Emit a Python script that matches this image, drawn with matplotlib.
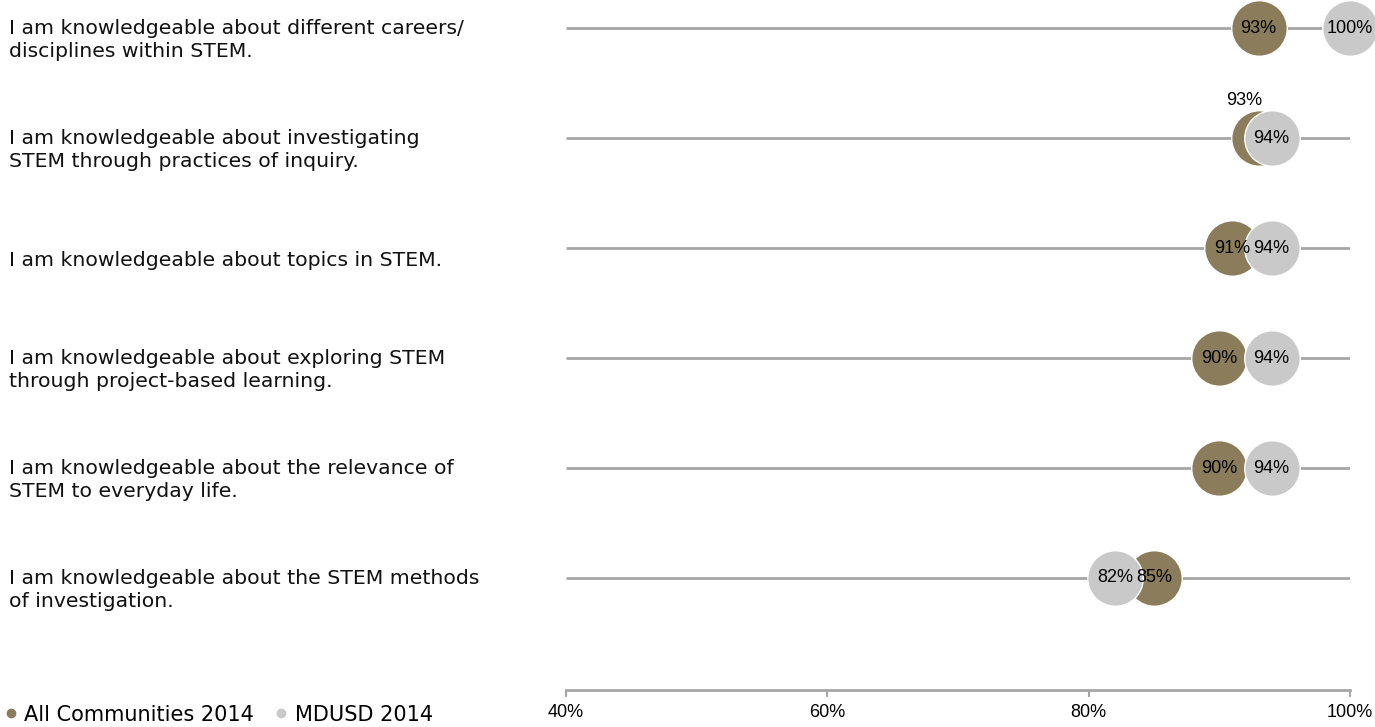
import matplotlib.pyplot as plt
import matplotlib.transforms as mtransforms
from matplotlib.lines import Line2D

# Data
statements = [
    'I am knowledgeable about different careers/\ndisciplines within STEM.',
    'I am knowledgeable about investigating\nSTEM through practices of inquiry.',
    'I am knowledgeable about topics in STEM.',
    'I am knowledgeable about exploring STEM\nthrough project-based learning.',
    'I am knowledgeable about the relevance of\nSTEM to everyday life.',
    'I am knowledgeable about the STEM methods\nof investigation.',
]
all_communities = [93, 93, 91, 90, 90, 85]
mdusd = [100, 94, 94, 94, 94, 82]
series_names = ['All Communities 2014', 'MDUSD 2014']
x_ticks = [40, 60, 80, 100]

OLIVE = '#8B7D5B'
GREY = '#C9C9C9'
LINE = '#A6A6A6'
NARROW = ['Liberation Sans Narrow', 'Liberation Sans', 'DejaVu Sans']

fig = plt.figure(figsize=(13.75, 7.27), dpi=100)
# axes spans 40% at x=566px to 100% at x=1350px, bottom axis at y=690px
ax = fig.add_axes([566 / 1375, 1 - 690 / 727, 784 / 1375, 690 / 727])
n = len(statements)
ypos = [n - 1 - i for i in range(n)]
ax.set_xlim(40, 100)
ax.set_ylim(-112 / 110, n - 1 + 28 / 110)

for y in ypos:
    ax.plot([40, 100], [y, y], color=LINE, lw=2, zorder=1, solid_capstyle='butt')

ax.scatter(all_communities, ypos, s=1600, color=OLIVE, edgecolor='white',
           linewidth=1, zorder=3, clip_on=False)
ax.scatter(mdusd, ypos, s=1600, color=GREY, edgecolor='white',
           linewidth=1, zorder=4, clip_on=False)

for y, a, m in zip(ypos, all_communities, mdusd):
    ax.text(m, y, f'{m}%', ha='center', va='center', fontsize=13,
            family=NARROW, zorder=6, clip_on=False)
    if abs(a - m) < 2:
        ax.annotate(f'{a}%', (a, y), xytext=(-10, 27), textcoords='offset points',
                    ha='center', va='center', fontsize=13, family=NARROW, zorder=6)
    else:
        ax.text(a, y, f'{a}%', ha='center', va='center', fontsize=13,
                family=NARROW, zorder=5, clip_on=False)

# statement labels at the left of the figure
trans = mtransforms.blended_transform_factory(fig.transFigure, ax.transData)
shift = mtransforms.ScaledTranslation(0, -12 / 100, fig.dpi_scale_trans)
for y, s in zip(ypos, statements):
    ax.text(9 / 1375, y, s, transform=trans + shift, ha='left', va='center',
            fontsize=14.7, linespacing=1.25, color='#111111')

for side in ['top', 'right', 'left']:
    ax.spines[side].set_visible(False)
ax.spines['bottom'].set_color(LINE)
ax.spines['bottom'].set_linewidth(2)
ax.set_yticks([])
ax.set_xticks(x_ticks)
ax.set_xticklabels([f'{t}%' for t in x_ticks], family=NARROW, fontsize=13)
ax.tick_params(axis='x', length=5, width=1.5, color=LINE, pad=5)

handles = [
    Line2D([], [], marker='o', color=OLIVE, ls='none', markersize=6),
    Line2D([], [], marker='o', color=GREY, ls='none', markersize=6),
]
fig.legend(handles, series_names, loc='lower left', bbox_to_anchor=(-0.006, -0.014),
           ncol=2, frameon=False, fontsize=15, handletextpad=0.35,
           columnspacing=1.0, handlelength=0.6, borderaxespad=0.2)

fig.savefig('out.png', dpi=100)
